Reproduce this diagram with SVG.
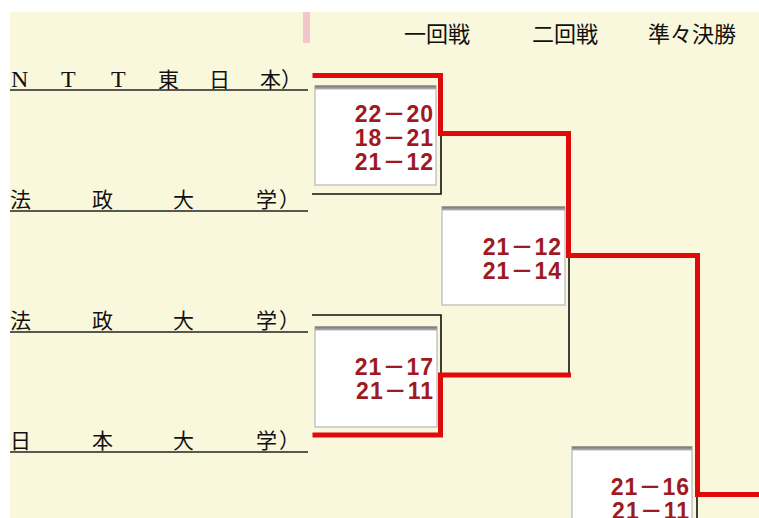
<svg xmlns="http://www.w3.org/2000/svg" width="759" height="518" viewBox="0 0 759 518">
<style>
.hdr{font-family:"Noto Sans CJK JP","Noto Sans CJK SC",sans-serif;font-size:22px;fill:#111}
.lbl{font-family:"Liberation Serif","Noto Sans CJK JP",serif;font-size:21px;fill:#111}
.lat{font-size:24px}
.ul{stroke:#222;stroke-width:1.6;fill:none}
.blk{stroke:#111;stroke-width:1.6;fill:none}
.red{stroke:#E00A0A;stroke-width:5;fill:none;stroke-linejoin:miter;stroke-linecap:square}
.box{fill:#fff;stroke:#C4C4C4;stroke-width:1.5}
.bar{fill:url(#barg)}
.sc{font-family:"Liberation Sans","Noto Sans CJK JP",sans-serif;font-weight:bold;font-size:23px;fill:#9E1A22;text-anchor:end;letter-spacing:1px}
</style>
<defs>
<linearGradient id="barg" x1="0" y1="0" x2="0" y2="1">
<stop offset="0" stop-color="#707070"/>
<stop offset="1" stop-color="#B8B8B8"/>
</linearGradient>
</defs>
<rect x="0" y="0" width="759" height="518" fill="#fff"/>
<rect x="10" y="12" width="749" height="506" fill="#FAF8DC"/>
<rect x="303" y="12" width="7" height="31" fill="#F2C6CA"/>

<g id="headers">
<text class="hdr" x="404" y="42">一回戦</text>
<text class="hdr" x="532" y="42">二回戦</text>
<text class="hdr" x="648" y="42">準々決勝</text>
</g>

<g id="team1">
<text class="lbl" y="87"><tspan class="lat" x="11 61 111">NTT</tspan><tspan x="158 209 260 281">東日本）</tspan></text>
<line class="ul" x1="10" y1="90" x2="308" y2="90"/>
</g>
<g id="team2">
<text class="lbl" x="10 92 173 256 279" y="207">法政大学）</text>
<line class="ul" x1="10" y1="211" x2="308" y2="211"/>
</g>
<g id="team3">
<text class="lbl" x="10 92 173 256 279" y="328">法政大学）</text>
<line class="ul" x1="10" y1="332" x2="308" y2="332"/>
</g>
<g id="team4">
<text class="lbl" x="10 92 173 256 279" y="448">日本大学）</text>
<line class="ul" x1="10" y1="452" x2="308" y2="452"/>
</g>

<g id="connectors">
<polyline class="blk" points="312,194 441,194 441,134"/>
<polyline class="blk" points="312,315 441,315 441,375"/>
<polyline class="blk" points="569,255 569,375"/>
<polyline class="blk" points="697,494 697,518"/>
<polyline class="red" points="315,75.5 440.5,75.5 440.5,133.5 568.5,133.5 568.5,255.5 697.5,255.5 697.5,494.5 762,494.5"/>
<polyline class="red" points="315,435 440.5,435 440.5,375 568.5,375"/>
</g>

<g id="score1">
<rect class="box" x="315" y="86" width="121" height="99"/>
<rect class="bar" x="315" y="85.5" width="121" height="4"/>
<text class="sc" x="434" y="122">22－20</text>
<text class="sc" x="434" y="146">18－21</text>
<text class="sc" x="434" y="170">21－12</text>
</g>
<g id="score2">
<rect class="box" x="442" y="207" width="123" height="98"/>
<rect class="bar" x="442" y="206.5" width="123" height="4"/>
<text class="sc" x="562" y="255">21－12</text>
<text class="sc" x="562" y="279">21－14</text>
</g>
<g id="score3">
<rect class="box" x="315" y="327" width="122" height="100"/>
<rect class="bar" x="315" y="326.5" width="122" height="4"/>
<text class="sc" x="434" y="375">21－17</text>
<text class="sc" x="434" y="399">21－11</text>
</g>
<g id="score4">
<rect class="box" x="572" y="447" width="120" height="100"/>
<rect class="bar" x="572" y="446.5" width="120" height="4"/>
<text class="sc" x="690" y="495">21－16</text>
<text class="sc" x="690" y="519">21－11</text>
</g>
</svg>
